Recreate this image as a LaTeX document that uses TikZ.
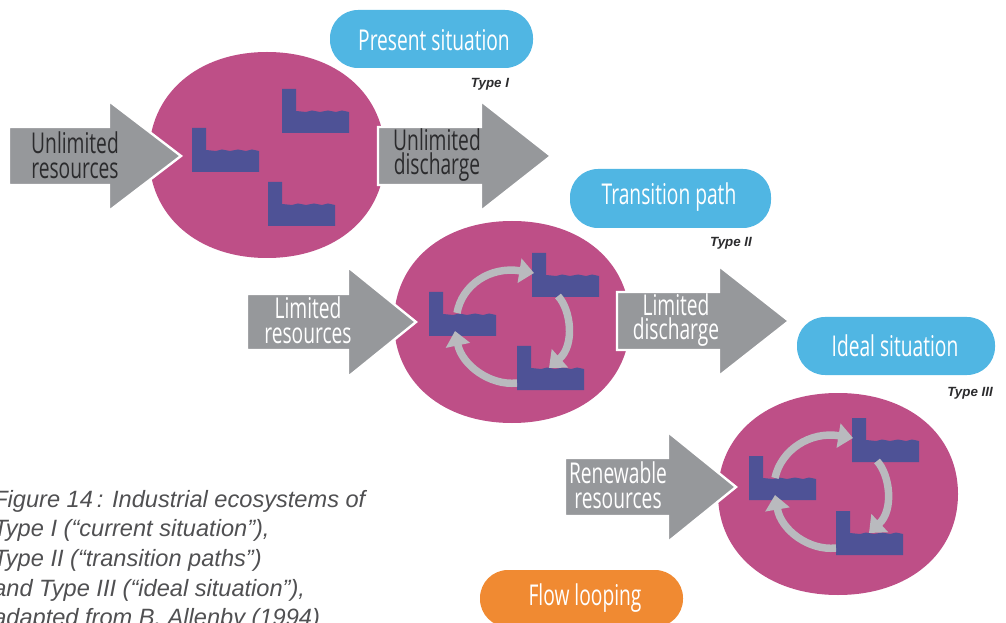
\documentclass[tikz,border=0pt]{standalone}
\usepackage{fontspec}
\usetikzlibrary{arrows.meta}
\setmainfont{Liberation Sans}
\newfontfamily\condfont[FakeStretch=0.67]{Open Sans}
\definecolor{pinkc}{HTML}{BE4F87}
\definecolor{facc}{HTML}{4E5296}
\definecolor{arrc}{HTML}{96989B}
\definecolor{loopc}{HTML}{B9BABE}
\definecolor{bluec}{HTML}{50B6E3}
\definecolor{orangec}{HTML}{F08A32}
\definecolor{darkc}{HTML}{2B2B2D}
\definecolor{capc}{HTML}{505052}
\tikzset{
  x=0.75pt,y=-0.75pt,
  blob/.style={fill=pinkc,draw=none},
  flow/.style={fill=arrc,draw=white,line width=1.8pt,line join=miter},
  pill/.style={rounded corners=21pt,draw=none},
  pilltext/.style={text=white,font=\condfont\fontsize{21.5}{24}\selectfont,inner sep=0pt},
  flowtext/.style={font=\condfont\fontsize{21.5}{18.6}\selectfont,align=center,inner sep=0pt},
  typetext/.style={text=darkc,font=\fontsize{10}{12}\selectfont\bfseries\itshape,inner sep=0pt},
  looparrow/.style={draw=loopc,line width=5.6pt,-{Triangle[length=11pt,width=18pt]}},
  pics/factory/.style={code={
    \fill[facc] (0,0) -- (14,0) -- (14,22) -- (24,23) -- (30,21.5) -- (38,23) -- (46,21.5) -- (54,23) -- (60,21.5) -- (67,23)
      -- (67,44) -- (0,44) -- cycle;
  }}
}
\newcommand{\flowarrow}[6]{% tail x, base x, tip x, mid y, half shaft, half head
  \draw[flow] (#1,#4-#5) -- (#2,#4-#5) -- (#2,#4-#6) -- (#3,#4) -- (#2,#4+#6) -- (#2,#4+#5) -- (#1,#4+#5) -- cycle;
}
\newcommand{\fullblob}[4]{% cx, cy, rx, ry : ellipse slightly fuller at the shoulders
  \fill[blob] (#1-#3,#2)
    .. controls (#1-#3,#2-0.59*#4) and (#1-0.59*#3,#2-#4) .. (#1,#2-#4)
    .. controls (#1+0.59*#3,#2-#4) and (#1+#3,#2-0.59*#4) .. (#1+#3,#2)
    .. controls (#1+#3,#2+0.59*#4) and (#1+0.59*#3,#2+#4) .. (#1,#2+#4)
    .. controls (#1-0.59*#3,#2+#4) and (#1-#3,#2+0.59*#4) .. (#1-#3,#2) -- cycle;
}
\begin{document}
\begin{tikzpicture}
\useasboundingbox (0,0) rectangle (1006,623);
\clip (0,0) rectangle (1006,623);
% blobs
\fullblob{267}{155}{118}{103}
\fullblob{512}{322}{118}{101}
\fullblob{838}{494}{120}{101}
% factories type I
\pic at (192,128) {factory};
\pic at (282,89) {factory};
\pic at (268,182) {factory};
% factories type II
\pic at (429,292) {factory};
\pic at (532,253) {factory};
\pic at (517,346) {factory};
% factories type III
\pic at (749,456) {factory};
\pic at (852,418) {factory};
\pic at (836,511) {factory};
% loops type II
\coordinate (a1) at (457,313); \coordinate (a2) at (534,273);
\coordinate (b1) at (558,296); \coordinate (b2) at (549,368);
\coordinate (c1) at (517,383); \coordinate (c2) at (455,331);
\draw[looparrow] (a1) .. controls (462,285) and (490,266) .. (a2);
\draw[looparrow] (b1) .. controls (571,310) and (575,345) .. (b2);
\draw[looparrow] (c1) .. controls (490,386) and (462,365) .. (c2);
% loops type III
\coordinate (d1) at (775,478); \coordinate (d2) at (853,438);
\coordinate (e1) at (877,461); \coordinate (e2) at (869,533);
\coordinate (f1) at (836,548); \coordinate (f2) at (775,495);
\draw[looparrow] (d1) .. controls (781,450) and (810,431) .. (d2);
\draw[looparrow] (e1) .. controls (890,475) and (894,510) .. (e2);
\draw[looparrow] (f1) .. controls (809,551) and (781,530) .. (f2);
% flow arrows
\flowarrow{9}{109}{181}{156}{29}{55}
\flowarrow{378}{481}{551}{156}{29}{55}
\flowarrow{247}{348}{416}{322}{28}{55}
\flowarrow{617}{719}{789}{321}{29}{55}
\flowarrow{565}{668}{736}{487}{29}{55}
\node[flowtext,text=darkc] (t1) at (75,155) {Unlimited\\resources};
\node[flowtext,text=darkc] (t2) at (437,155) {Unlimited\\discharge};
\node[flowtext,text=white] (t3) at (308,320) {Limited\\resources};
\node[flowtext,text=white] (t4) at (676,320) {Limited\\discharge};
\node[flowtext,text=white] (t5) at (618,485) {Renewable\\resources};
% pills
\fill[pill,fill=bluec] (330,10) rectangle (533,68);
\fill[pill,fill=bluec] (570,169) rectangle (771,228);
\fill[pill,fill=bluec] (797,317) rectangle (995,375);
\fill[pill,fill=orangec] (480,570) rectangle (683,627);
\node[pilltext] (p1) at (434,40) {Present situation};
\node[pilltext] (p2) at (669,197) {Transition path};
\node[pilltext] (p3) at (895,346) {Ideal situation};
\node[pilltext] (p4) at (585,598) {Flow looping};
\node[typetext] (y1) at (490,84) {Type I};
\node[typetext] (y2) at (731,243) {Type II};
\node[typetext] (y3) at (970,393) {Type III};
% caption
\node[anchor=north west,align=left,inner sep=0pt,text=capc,
  font=\fontsize{17.7}{22.2}\selectfont\itshape] (cap) at (-7,490)
  {Figure 14\,: Industrial ecosystems of\\Type I (“current situation”),\\Type II (“transition paths”)\\and Type III (“ideal situation”),\\adapted from B. Allenby (1994)};
\end{tikzpicture}
\end{document}
